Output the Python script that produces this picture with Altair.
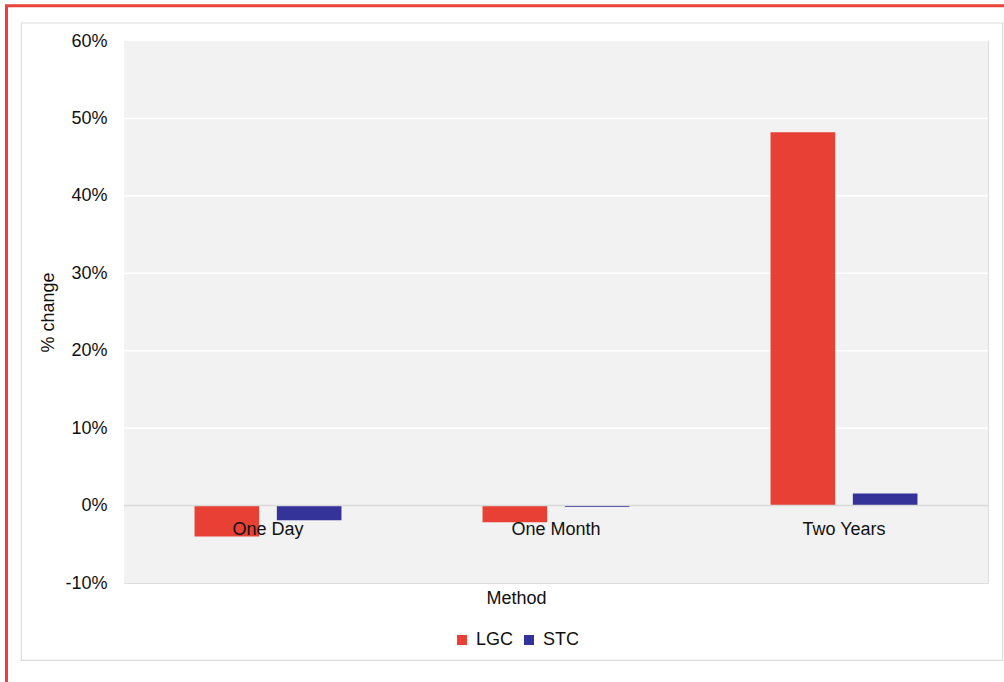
import altair as alt
import pandas as pd

# Percentage change of each method, per series
methods = ["One Day", "One Month", "Two Years"]
series = ["LGC", "STC"]
lgc_change = [-0.040, -0.0215, 0.482]
stc_change = [-0.019, -0.002, 0.0155]
y_ticks = [-0.1, 0.0, 0.1, 0.2, 0.3, 0.4, 0.5, 0.6]

rows = []
for m, a, b in zip(methods, lgc_change, stc_change):
    rows.append({"method": m, "series": "LGC", "change": a})
    rows.append({"method": m, "series": "STC", "change": b})
df = pd.DataFrame(rows)
labels_df = pd.DataFrame({"method": methods, "zero": [0.0] * len(methods)})
# inner white gridlines only (zero gets its own grey rule)
grid_df = pd.DataFrame({"tick": [t for t in y_ticks if 0.0 < t < 0.6]})
one = pd.DataFrame({"k": [0]})

FONT = "Liberation Sans"
TEXT = "#111111"

x_scale = alt.Scale(domain=methods, paddingInner=0, paddingOuter=0)
y_scale = alt.Scale(domain=[-0.1, 0.6], nice=False, zero=False)

# grey plot panel
panel = alt.Chart(one).mark_rect(fill="#f2f2f2").encode(
    x=alt.value(0), x2=alt.value(864), y=alt.value(0), y2=alt.value(542)
)

grid = alt.Chart(grid_df).mark_rule(color="#ffffff", strokeWidth=1.5).encode(
    y=alt.Y("tick:Q", scale=y_scale)
)

bars = alt.Chart(df).mark_bar().encode(
    x=alt.X(
        "method:N",
        scale=x_scale,
        sort=methods,
        axis=alt.Axis(
            labels=False, ticks=False, domain=False, grid=False,
            title="Method", titleFontSize=18, titleFontWeight="normal",
            titleColor=TEXT, titleX=392, titleY=15,
            titleAlign="center", titleBaseline="middle",
        ),
    ),
    xOffset=alt.XOffset(
        "series:N",
        sort=series,
        scale=alt.Scale(domain=series, paddingInner=0.215, paddingOuter=0.857),
    ),
    y=alt.Y(
        "change:Q",
        stack=None,
        scale=y_scale,
        axis=alt.Axis(
            values=y_ticks, labelExpr="round(datum.value * 100) + '%'",
            domain=False, ticks=False, grid=False,
            labelFontSize=18, labelColor=TEXT, labelPadding=17,
            title="% change", titleFontSize=18, titleFontWeight="normal",
            titleColor=TEXT, titleX=-76, titleY=271,
            titleAlign="center", titleBaseline="middle",
        ),
    ),
    color=alt.Color(
        "series:N",
        sort=series,
        scale=alt.Scale(domain=series, range=["#e84034", "#333399"]),
        legend=alt.Legend(
            title=None, orient="none", direction="horizontal",
            legendX=329, legendY=590, symbolType="square", symbolSize=100,
            symbolStrokeWidth=0, symbolOpacity=1, labelFontSize=18,
            labelColor=TEXT, labelOffset=5, columnPadding=6,
        ),
    ),
)

zero_line = alt.Chart(one).mark_rule(color="#d9d9d9", strokeWidth=1.5).encode(
    y=alt.datum(0, scale=y_scale)
)

cat_labels = alt.Chart(labels_df).mark_text(
    fontSize=18, color=TEXT, baseline="alphabetic", dy=29, font=FONT
).encode(
    x=alt.X("method:N", scale=x_scale, sort=methods),
    y=alt.Y("zero:Q", scale=y_scale),
    text="method:N",
)

outer_frame = alt.Chart(one).mark_rect(
    fill="transparent", stroke="#e8433a", strokeWidth=3
).encode(
    x=alt.value(-117.5), x2=alt.value(1000), y=alt.value(-35.3), y2=alt.value(800)
)

inner_frame = alt.Chart(one).mark_rect(
    fill="transparent", stroke="#dcdcdc", strokeWidth=1.2
).encode(
    x=alt.value(-102.7), x2=alt.value(878.7), y=alt.value(-18), y2=alt.value(619.3)
)

chart = (
    alt.layer(inner_frame, outer_frame, panel, grid, bars, zero_line, cat_labels)
    .properties(
        width=864,
        height=542,
        autosize=alt.AutoSizeParams(type="none"),
        padding={"left": 124, "top": 41, "right": 16, "bottom": 99},
        background="#ffffff",
    )
    .configure_view(stroke=None)
    .configure(font=FONT)
)

chart.save("out.html", embed_options={"renderer": "svg", "actions": False})
